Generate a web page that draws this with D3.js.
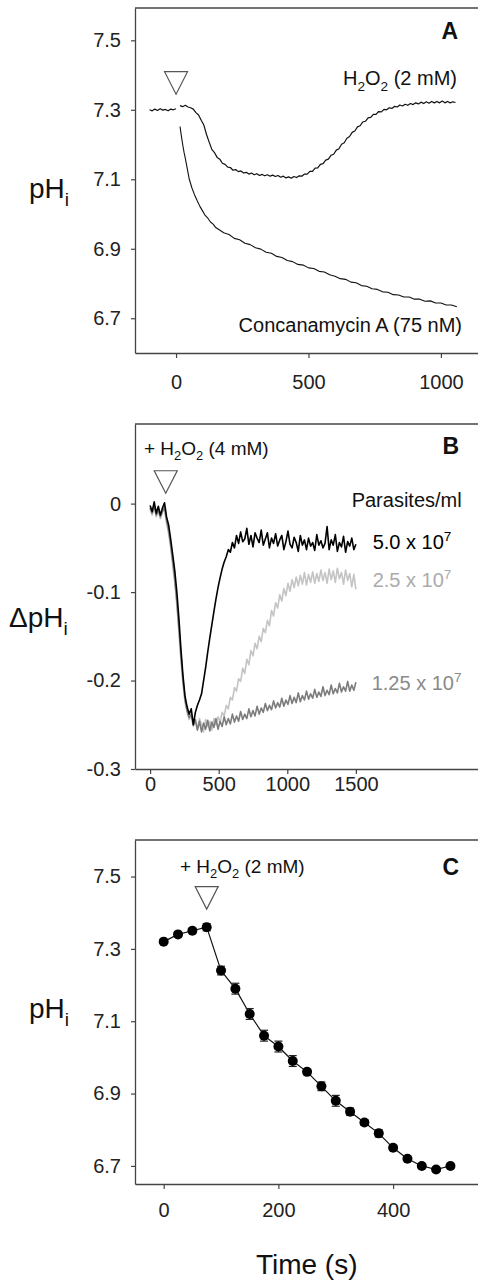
<!DOCTYPE html>
<html><head><meta charset="utf-8">
<script src="https://cdn.jsdelivr.net/npm/d3@7"></script>
<style>
html,body{margin:0;padding:0;background:#fff;}
svg{display:block;font-family:"Liberation Sans",Arial,Helvetica,sans-serif;}
</style></head><body>
<svg id="c" width="478" height="1282"></svg>
<script>
// ---------------- DATA ----------------
// Panel A: pHi traces (time in s)
const aPreStart = -100, aPreStep = 10;
const aPreValues = [7.300,7.297,7.302,7.298,7.303,7.299,7.301,7.297,7.302,7.300,7.303];
const aH2O2Start = 15, aH2O2Step = 10;
const aH2O2Values = [7.312,7.309,7.313,7.308,7.306,7.302,7.292,7.285,7.270,7.256,7.229,7.207,7.186,7.177,7.163,7.158,7.146,7.143,7.135,7.134,
  7.126,7.128,7.122,7.124,7.118,7.120,7.115,7.118,7.113,7.116,7.111,7.114,7.110,7.113,7.109,7.112,7.108,7.111,7.106,7.109,
  7.104,7.107,7.103,7.108,7.105,7.110,7.109,7.115,7.115,7.123,7.123,7.132,7.133,7.143,7.145,7.155,7.158,7.169,7.172,7.184,
  7.188,7.201,7.205,7.218,7.223,7.235,7.239,7.251,7.254,7.265,7.267,7.277,7.278,7.287,7.287,7.295,7.294,7.301,7.300,7.306,
  7.304,7.310,7.308,7.314,7.311,7.316,7.313,7.318,7.315,7.320,7.317,7.322,7.318,7.323,7.319,7.324,7.320,7.324,7.320,7.325,
  7.320,7.324,7.320,7.323,7.321];
const aConcTimes = [15,20,25,30,35,40,45,50,60,70,80,90,100,110,120,130,140,150,160,180,200,220,240,260,280,300,320,340,360,380,
  400,420,440,460,480,500,520,540,560,580,600,620,640,660,680,700,720,740,760,780,800,820,840,860,880,900,920,940,960,980,
  1000,1020,1040,1060];
const aConcValues = [7.252,7.225,7.200,7.178,7.160,7.140,7.120,7.100,7.075,7.055,7.038,7.022,7.009,6.996,6.988,6.977,6.971,6.961,6.956,6.946,
  6.941,6.930,6.926,6.916,6.912,6.903,6.899,6.890,6.887,6.878,6.875,6.866,6.863,6.855,6.853,6.845,6.843,6.835,6.833,6.825,
  6.821,6.814,6.812,6.804,6.802,6.794,6.792,6.785,6.783,6.776,6.775,6.768,6.767,6.761,6.761,6.755,6.755,6.749,6.750,6.744,
  6.744,6.738,6.738,6.733];
const aYTicks = [6.7, 6.9, 7.1, 7.3, 7.5];
const aXTicks = [0, 500, 1000];

// Panel B: delta pHi traces, sampled every 15 s from 0 to 1500 s
const bStart = 0, bStep = 15;
const bHigh = [-0.002,-0.009,0.002,-0.011,-0.003,-0.013,-0.005,0.001,-0.015,-0.024,-0.040,-0.058,-0.076,-0.100,-0.130,-0.165,-0.195,-0.218,-0.230,-0.238,
  -0.232,-0.250,-0.236,-0.228,-0.222,-0.215,-0.200,-0.185,-0.168,-0.152,-0.137,-0.122,-0.108,-0.095,-0.084,-0.074,-0.066,-0.060,-0.052,-0.055,
  -0.044,-0.050,-0.036,-0.045,-0.032,-0.043,-0.040,-0.028,-0.046,-0.036,-0.049,-0.033,-0.039,-0.044,-0.030,-0.047,-0.040,-0.033,-0.050,-0.039,
  -0.045,-0.034,-0.048,-0.041,-0.036,-0.052,-0.043,-0.031,-0.046,-0.050,-0.038,-0.044,-0.054,-0.036,-0.047,-0.041,-0.052,-0.039,-0.048,-0.044,
  -0.053,-0.035,-0.047,-0.042,-0.050,-0.045,-0.026,-0.052,-0.041,-0.047,-0.035,-0.054,-0.044,-0.049,-0.037,-0.055,-0.043,-0.048,-0.039,-0.052,-0.046];
const bMid = [-0.006,-0.013,-0.003,-0.015,-0.008,-0.017,-0.009,-0.006,-0.022,-0.034,-0.050,-0.070,-0.090,-0.115,-0.145,-0.178,-0.205,-0.225,-0.236,-0.244,
  -0.240,-0.252,-0.246,-0.255,-0.243,-0.250,-0.258,-0.244,-0.252,-0.246,-0.256,-0.243,-0.250,-0.241,-0.247,-0.236,-0.240,-0.228,-0.232,-0.219,
  -0.222,-0.208,-0.212,-0.198,-0.201,-0.186,-0.192,-0.176,-0.182,-0.166,-0.172,-0.158,-0.164,-0.150,-0.156,-0.141,-0.146,-0.132,-0.138,-0.121,
  -0.127,-0.112,-0.118,-0.103,-0.110,-0.096,-0.104,-0.090,-0.099,-0.086,-0.095,-0.083,-0.093,-0.081,-0.091,-0.078,-0.092,-0.080,-0.089,-0.077,
  -0.090,-0.079,-0.088,-0.075,-0.087,-0.078,-0.090,-0.074,-0.086,-0.076,-0.089,-0.073,-0.085,-0.078,-0.091,-0.075,-0.087,-0.079,-0.094,-0.080,-0.097];
const bLow = [-0.005,-0.011,-0.003,-0.013,-0.007,-0.015,-0.009,-0.004,-0.019,-0.030,-0.046,-0.065,-0.085,-0.110,-0.140,-0.172,-0.200,-0.222,-0.234,-0.242,
  -0.238,-0.250,-0.244,-0.256,-0.246,-0.258,-0.248,-0.255,-0.245,-0.257,-0.247,-0.253,-0.243,-0.255,-0.246,-0.252,-0.241,-0.250,-0.243,-0.249,
  -0.238,-0.247,-0.240,-0.246,-0.235,-0.244,-0.238,-0.243,-0.232,-0.241,-0.234,-0.240,-0.229,-0.238,-0.231,-0.236,-0.226,-0.234,-0.228,-0.233,
  -0.223,-0.231,-0.225,-0.230,-0.220,-0.229,-0.222,-0.227,-0.217,-0.226,-0.219,-0.225,-0.214,-0.224,-0.217,-0.222,-0.212,-0.221,-0.215,-0.220,
  -0.210,-0.219,-0.213,-0.218,-0.207,-0.217,-0.211,-0.216,-0.205,-0.215,-0.209,-0.214,-0.203,-0.213,-0.207,-0.212,-0.201,-0.212,-0.205,-0.211,-0.202];
const bSeriesNames = ["5.0 x 10", "2.5 x 10", "1.25 x 10"];
const bYTicks = [-0.3, -0.2, -0.1, 0];
const bYTickLabels = ["-0.3", "-0.2", "-0.1", "0"];
const bXTicks = [0, 500, 1000, 1500];

// Panel C: mean pHi with error bars
const cTimes = [0,25,50,75,100,125,150,175,200,225,250,275,300,325,350,375,400,425,450,475,500];
const cValues = [7.32,7.34,7.35,7.36,7.24,7.19,7.12,7.06,7.03,6.99,6.96,6.92,6.88,6.85,6.82,6.79,6.75,6.72,6.70,6.69,6.70];
const cErrors = [0.004,0.006,0.005,0.010,0.012,0.015,0.015,0.015,0.015,0.015,0.006,0.012,0.015,0.010,0.008,0.010,0.005,0.005,0.005,0.005,0.004];
const cYTicks = [6.7, 6.9, 7.1, 7.3, 7.5];
const cXTicks = [0, 200, 400];

// Addition markers (time, value at tip)
const markA = {t: 0, v: 7.345};
const markB = {t: 114, v: 0.0117};
const markC = {t: 75, v: 7.41};

// ---------------- DRAWING ----------------
const svg = d3.select("#c");
const AX = "#444";
const xA = d3.scaleLinear().domain([-155, 1140]).range([135, 478]);
const yA = d3.scaleLinear().domain([6.6, 7.593]).range([353, 8]);
const xB = d3.scaleLinear().domain([-110, 2390]).range([135, 478]);
const yB = d3.scaleLinear().domain([-0.3, 0.09]).range([769, 424]);
const xC = d3.scaleLinear().domain([-50, 548]).range([135, 478]);
const yC = d3.scaleLinear().domain([6.65, 7.601]).range([1184, 840]);

function styleAxis(g) {
  g.selectAll(".domain").attr("stroke", AX).attr("stroke-width", 1.3);
  g.selectAll(".tick line").attr("stroke", AX).attr("stroke-width", 1.2);
  g.selectAll(".tick text").attr("fill", "#222").attr("font-size", 20)
    .attr("font-family", '"Liberation Sans",Arial,sans-serif');
}
function frame(x, y, xt, yt, yfmt, xpad) {
  const [y0, y1] = y.range();
  const [x0, x1] = x.range();
  svg.append("g").attr("transform", `translate(0,${y0})`)
    .call(d3.axisBottom(x).tickValues(xt).tickSize(5).tickSizeOuter(0).tickPadding(xpad).tickFormat(d3.format("d")))
    .call(styleAxis);
  svg.append("g").attr("transform", `translate(${x0},0)`)
    .call(d3.axisLeft(y).tickValues(yt).tickSize(4).tickSizeOuter(0).tickPadding(10).tickFormat(yfmt))
    .call(styleAxis);
  svg.append("line").attr("x1", x0).attr("x2", x1 + 2).attr("y1", y1).attr("y2", y1)
    .attr("stroke", AX).attr("stroke-width", 1.3);
}
frame(xA, yA, aXTicks, aYTicks, d3.format(".1f"), 17);
frame(xB, yB, bXTicks, bYTicks, (d, i) => bYTickLabels[i], 3);
frame(xC, yC, cXTicks, cYTicks, d3.format(".1f"), 14);

function trace(x, y, pts, color, w) {
  svg.append("path").datum(pts)
    .attr("d", d3.line().x(d => x(d[0])).y(d => y(d[1])))
    .attr("fill", "none").attr("stroke", color).attr("stroke-width", w)
    .attr("stroke-linejoin", "round");
}
// Panel A
trace(xA, yA, aPreValues.map((v, i) => [aPreStart + i * aPreStep, v]), "#111", 1.2);
trace(xA, yA, aH2O2Values.map((v, i) => [aH2O2Start + i * aH2O2Step, v]), "#111", 1.2);
trace(xA, yA, aConcTimes.map((t, i) => [t, aConcValues[i]]), "#111", 1.1);
// Panel B
const bColors = ["#000000", "#c4c4c4", "#7c7c7c"];
trace(xB, yB, bMid.map((v, i) => [bStart + i * bStep, v]), bColors[1], 1.6);
trace(xB, yB, bLow.map((v, i) => [bStart + i * bStep, v]), bColors[2], 1.6);
trace(xB, yB, bHigh.map((v, i) => [bStart + i * bStep, v]), bColors[0], 1.6);
// Panel C
const cPts = cTimes.map((t, i) => ({t, v: cValues[i], e: cErrors[i]}));
trace(xC, yC, cPts.map(d => [d.t, d.v]), "#111", 1.2);
const eb = svg.append("g").attr("stroke", "#222").attr("stroke-width", 1.2);
cPts.forEach(d => {
  const cx = xC(d.t), yt = yC(d.v + d.e), yb = yC(d.v - d.e);
  eb.append("line").attr("x1", cx).attr("x2", cx).attr("y1", yt).attr("y2", yb);
  eb.append("line").attr("x1", cx - 4).attr("x2", cx + 4).attr("y1", yt).attr("y2", yt);
  eb.append("line").attr("x1", cx - 4).attr("x2", cx + 4).attr("y1", yb).attr("y2", yb);
});
svg.append("g").selectAll("circle").data(cPts).join("circle")
  .attr("cx", d => xC(d.t)).attr("cy", d => yC(d.v)).attr("r", 5).attr("fill", "#000");

// Triangles
function tri(x, y, m) {
  const cx = x(m.t), ty = y(m.v);
  svg.append("path").attr("d", `M${cx - 11.5},${ty - 22.5}L${cx + 11.5},${ty - 22.5}L${cx},${ty}Z`)
    .attr("fill", "#fff").attr("stroke", "#555").attr("stroke-width", 1.2);
}
tri(xA, yA, markA); tri(xB, yB, markB); tri(xC, yC, markC);

// Rich text helper
function rich(x, y, parts, opts) {
  const size = opts.size || 20;
  const t = svg.append("text").attr("x", x).attr("y", y)
    .attr("font-size", size).attr("fill", opts.fill || "#111")
    .attr("text-anchor", opts.anchor || "start")
    .attr("font-weight", opts.weight || "normal");
  let shift = 0;
  parts.forEach(p => {
    const s = typeof p === "string" ? {s: p} : p;
    let target = 0, fs = size;
    if (s.sub) { target = size * 0.28; fs = size * 0.68; }
    if (s.sup) { target = -size * 0.38; fs = size * 0.68; }
    t.append("tspan").attr("dy", target - shift).attr("font-size", fs).text(s.s);
    shift = target;
  });
  return t;
}
// Panel A texts
rich(458, 39, ["A"], {size: 23, weight: "bold", anchor: "end"});
rich(457, 85, ["H", {s: "2", sub: 1}, "O", {s: "2", sub: 1}, " (2 mM)"], {size: 20, anchor: "end"});
rich(462, 331.5, ["Concanamycin A (75 nM)"], {size: 20, anchor: "end"});
rich(29, 198, ["pH", {s: "i", sub: 1}], {size: 28});
// Panel B texts
rich(144, 455, ["+ H", {s: "2", sub: 1}, "O", {s: "2", sub: 1}, " (4 mM)"], {size: 19});
rich(459, 454, ["B"], {size: 23, weight: "bold", anchor: "end"});
rich(461.7, 507, ["Parasites/ml"], {size: 20, anchor: "end"});
rich(372.7, 549, [bSeriesNames[0], {s: "7", sup: 1}], {size: 20, fill: "#000"});
rich(372.7, 587, [bSeriesNames[1], {s: "7", sup: 1}], {size: 20, fill: "#ababab"});
rich(371.7, 690, [bSeriesNames[2], {s: "7", sup: 1}], {size: 20, fill: "#8a8a8a"});
rich(9, 627, ["\u0394pH", {s: "i", sub: 1}], {size: 28});
// Panel C texts
rich(180, 873, ["+ H", {s: "2", sub: 1}, "O", {s: "2", sub: 1}, " (2 mM)"], {size: 19});
rich(459, 875, ["C"], {size: 23, weight: "bold", anchor: "end"});
rich(29, 1018, ["pH", {s: "i", sub: 1}], {size: 28});
rich(306.7, 1274, ["Time (s)"], {size: 28, anchor: "middle"});
</script></body></html>
